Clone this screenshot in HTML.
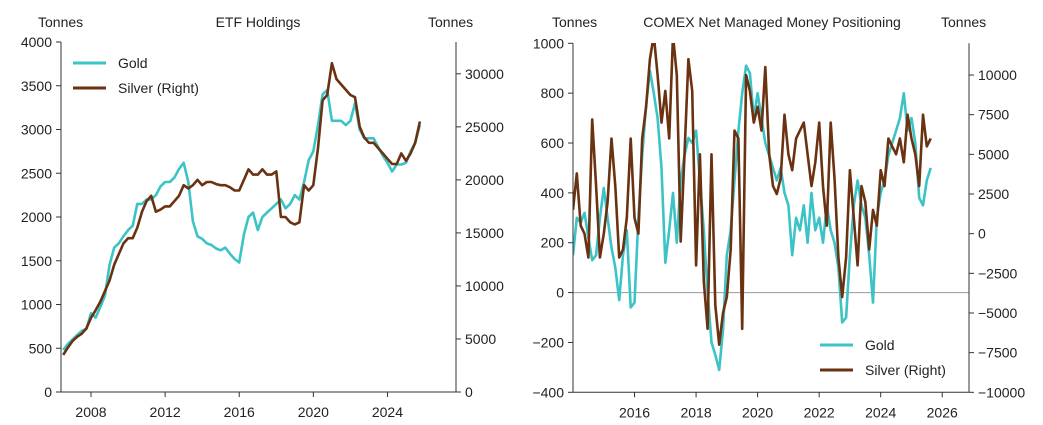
<!DOCTYPE html>
<html><head><meta charset="utf-8">
<style>
html,body{margin:0;padding:0;background:#fff;}
svg{display:block;font-family:"Liberation Sans",Arial,sans-serif;}
text{fill:#222;font-size:14px;}
</style></head>
<body>
<svg id="chart" width="1043" height="425" viewBox="0 0 1043 425" xmlns="http://www.w3.org/2000/svg">
<defs>
<clipPath id="clipL"><rect x="61" y="42" width="395" height="350"/></clipPath>
<clipPath id="clipR"><rect x="573" y="43" width="396" height="349"/></clipPath>
</defs>
<text x="38" y="27">Tonnes</text>
<text x="258" y="27" text-anchor="middle">ETF Holdings</text>
<text x="428" y="27">Tonnes</text>
<text x="552" y="27">Tonnes</text>
<text x="772" y="27" text-anchor="middle">COMEX Net Managed Money Positioning</text>
<text x="941" y="27">Tonnes</text>
<g id="gL"></g>
<g id="gR"></g>
</svg>
<script>
// ---- ETF Holdings data (quarterly from 2006.5) ----
const etfStart = 2006.5;
const etfStep = 0.25;
const etfGold = [480,550, 600,650,700,720, 900,850,970,1100, 1450,1650,1700,1780, 1850,1900,2150,2150,
 2200,2200,2250,2350, 2400,2400,2450,2550, 2620,2400,1950,1780, 1750,1700,1680,1640, 1620,1650,1580,1520,
 1480,1800,2000,2050, 1850,2000,2050,2100, 2150,2200,2100,2150, 2250,2200,2400,2650, 2750,3050,3400,3450,
 3100,3100,3100,3050, 3100,3300,3000,2900, 2900,2900,2800,2700, 2620,2520,2600,2600, 2620,2750,2850,3050];
const etfSilver = [3500,4200, 4800,5200,5500,6000, 7000,7700,8500,9500, 10500,12000,13000,14000, 14500,14500,15500,17000,
 18000,18500,17000,17200, 17500,17500,18000,18500, 19500,19200,19500,20000, 19500,19800,19800,19600, 19500,19500,19300,19000,
 19000,20000,21000,20500, 20500,21000,20500,20500, 20800,16500,16500,16000, 15800,16000,19500,19000, 19500,23000,27500,28000,
 31000,29500,29000,28500, 28000,27800,25000,24000, 23500,23500,23000,22500, 22000,21500,21500,22500, 21800,22500,23500,25500];
const etfYearTicks = [2008,2012,2016,2020,2024];
const etfGoldTicks = [0,500,1000,1500,2000,2500,3000,3500,4000];
const etfSilverTicks = [0,5000,10000,15000,20000,25000,30000];

// ---- COMEX data (1/8 year from 2014.0) ----
const cmxStart = 2014.0;
const cmxStep = 0.125;
const cmxGold = [150,300,280,320,220,130,150,300,
 420,300,180,100,-30,150,250,-60,
 -40,300,550,750,890,800,700,500,
 120,250,400,200,450,550,620,600,
 650,450,250,0,-200,-250,-310,-150,
 150,250,450,650,800,910,880,700,
 800,700,600,550,500,450,500,400,
 350,150,300,250,350,200,400,250,
 300,200,350,250,200,100,-120,-100,
 150,350,450,350,300,150,-40,300,
 400,450,550,600,650,700,800,650,
 700,600,380,350,450,500];
const cmxSilver = [1500,3800,500,0,-1500,7200,3000,-1500,
 0,2000,6000,3000,-1500,-1000,1000,6000,
 1000,0,6000,8000,11000,12500,10000,7000,
 9000,6000,12500,10000,-500,5000,11000,9000,
 -2000,5000,-3000,-6000,5000,-4500,-7000,-5000,
 -4000,-1000,6500,6000,-6000,10000,9000,7000,
 8000,6500,10500,5000,3000,2500,3500,7500,
 5000,4000,6000,6500,7000,5000,3000,4500,
 7000,3000,500,7000,3500,-1500,-4000,-1500,
 4000,1000,-2000,3000,2000,-1000,1500,500,
 4000,3000,6000,5500,5000,6000,4500,7500,
 6000,5000,3000,7500,5500,6000];
const cmxYearTicks = [2016,2018,2020,2022,2024,2026];
const cmxGoldTicks = [-400,-200,0,200,400,600,800,1000];
const cmxSilverTicks = [-10000,-7500,-5000,-2500,0,2500,5000,7500,10000];

const NS = "http://www.w3.org/2000/svg";
const GOLD = "#3cc3c6", SILVER = "#6a3210", AX = "#333";
function mk(tag, attrs, parent){ const e=document.createElementNS(NS,tag); for(const k in attrs) e.setAttribute(k,attrs[k]); parent.appendChild(e); return e; }

function drawChart(g, cfg){
  const xs = v => cfg.x0 + (v - cfg.xmin)/(cfg.xmax - cfg.xmin)*(cfg.x1 - cfg.x0);
  const yl = v => cfg.yb - (v - cfg.lmin)/(cfg.lmax - cfg.lmin)*(cfg.yb - cfg.yt);
  const yr = v => cfg.yb - (v - cfg.rmin)/(cfg.rmax - cfg.rmin)*(cfg.yb - cfg.yt);
  // zero line
  if (cfg.zero){
    const z = mk('line',{x1:cfg.x0,x2:cfg.x1,y1:yl(0),y2:yl(0),stroke:'#999','stroke-width':1},g);
    
    
  }
  // series
  const series = [[cfg.gold, yl, GOLD, 'gold-line'], [cfg.silver, yr, SILVER, 'silver-line']];
  for (const [vals, yf, col, nm] of series){
    const pts = vals.map((v,i)=> xs(cfg.start + i*cfg.step).toFixed(1)+','+yf(v).toFixed(1)).join(' ');
    const p = mk('polyline',{points:pts,fill:'none',stroke:col,'stroke-width':2.6,'stroke-linejoin':'round','clip-path':cfg.clip},g);
    
    
  }
  // spines
  const sp = [[cfg.x0,cfg.yt,cfg.x0,cfg.yb,'left-axis-line'],[cfg.x1,cfg.yt,cfg.x1,cfg.yb,'right-axis-line'],[cfg.x0,cfg.yb,cfg.x1,cfg.yb,'x-axis-line']];
  for (const s of sp){
    const l = mk('line',{x1:s[0],y1:s[1],x2:s[2],y2:s[3],stroke:AX,'stroke-width':1},g);
    
    
  }
  for (const t of cfg.xt){
    const x = xs(t);
    mk('line',{x1:x,x2:x,y1:cfg.yb,y2:cfg.yb+5,stroke:AX},g);
    const tx = mk('text',{x:x,y:cfg.yb+25,'text-anchor':'middle'},g);
    tx.textContent = t;
    
    
  }
  for (const t of cfg.lt){
    const y = yl(t);
    mk('line',{x1:cfg.x0-5,x2:cfg.x0,y1:y,y2:y,stroke:AX},g);
    const tx = mk('text',{x:cfg.x0-9,y:y+5,'text-anchor':'end'},g);
    tx.textContent = t < 0 ? '\u2212'+Math.abs(t) : t;
    
    
  }
  for (const t of cfg.rt){
    const y = yr(t);
    mk('line',{x1:cfg.x1,x2:cfg.x1+5,y1:y,y2:y,stroke:AX},g);
    const tx = mk('text',{x:cfg.x1+9,y:y+5,'text-anchor':'start'},g);
    tx.textContent = t < 0 ? '\u2212'+Math.abs(t) : t;
    
    
  }
  // legend
  const L = cfg.leg;
  const entries = [['Gold',GOLD,'legend-gold'],['Silver (Right)',SILVER,'legend-silver']];
  entries.forEach((e,i)=>{
    const y = L.y + i*25;
    const grp = mk('g',{},g);
    
    
    mk('line',{x1:L.x,x2:L.x+33,y1:y,y2:y,stroke:e[1],'stroke-width':3},grp);
    const tx = mk('text',{x:L.x+45,y:y+5},grp);
    tx.textContent = e[0];
  });
}

drawChart(document.getElementById('gL'), {
  x0:61, x1:456, yt:42, yb:392, xmin:2006.38, xmax:2027.7,
  lmin:0, lmax:4000, rmin:0, rmax:33000,
  start:etfStart, step:etfStep, gold:etfGold, silver:etfSilver,
  xt:etfYearTicks, lt:etfGoldTicks, rt:etfSilverTicks, clip:'url(#clipL)',
  leg:{x:73,y:63}, zero:false
});
drawChart(document.getElementById('gR'), {
  x0:573, x1:969, yt:43.3, yb:392.3, xmin:2014.0, xmax:2026.87,
  lmin:-400, lmax:1000, rmin:-10000, rmax:12000,
  start:cmxStart, step:cmxStep, gold:cmxGold, silver:cmxSilver,
  xt:cmxYearTicks, lt:cmxGoldTicks, rt:cmxSilverTicks, clip:'url(#clipR)',
  leg:{x:820,y:345}, zero:true
});
</script>
</body></html>
